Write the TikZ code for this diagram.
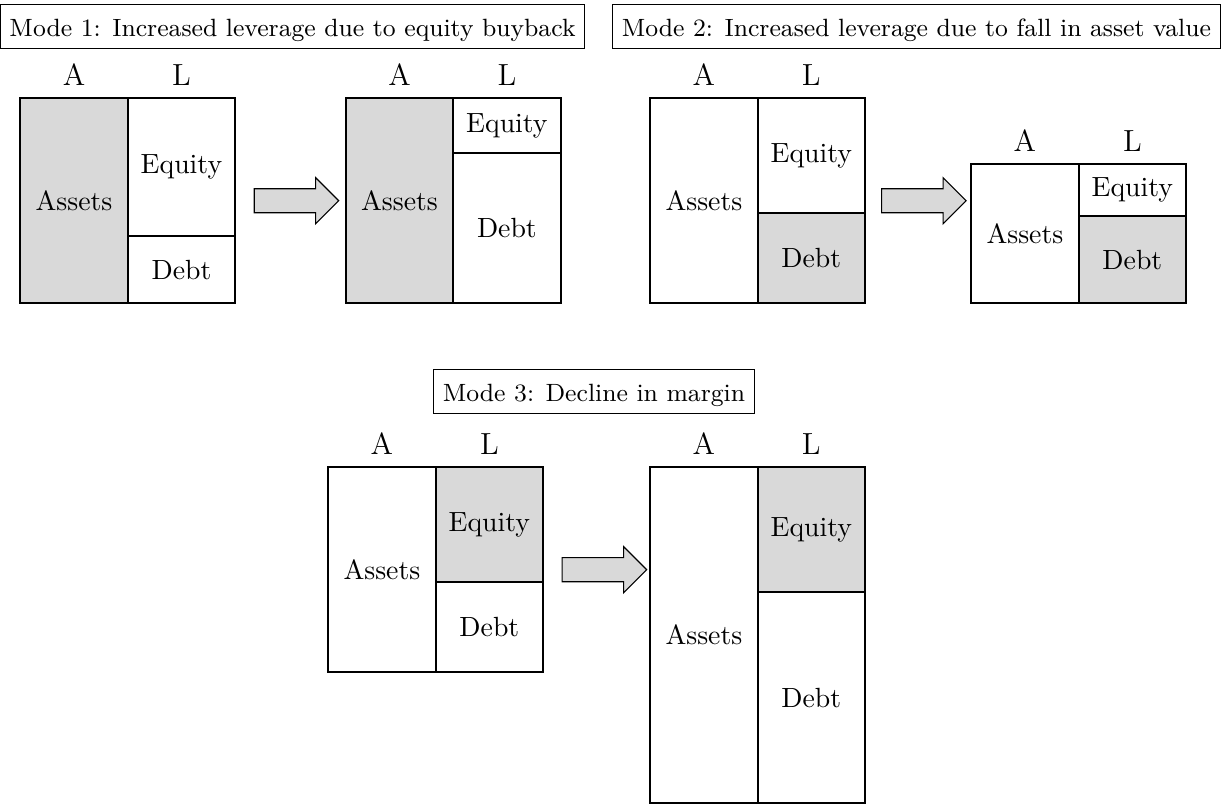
\documentclass[tikz,border=0pt]{standalone}
\usetikzlibrary{shapes.arrows,positioning}
\begin{document}
\begin{tikzpicture}[
    part/.style={draw,thick,rectangle,inner sep=0pt,outer sep=0pt,minimum width=1.36cm},
    shaded/.style={part,fill=gray!30},
    colhead/.style={font=\fontsize{11}{13}\selectfont},
    modebox/.style={draw,rectangle,font=\small,text height=8pt,text depth=1.2pt},
    bigarrow/.style={single arrow,draw,fill=gray!30,inner xsep=0pt,inner ysep=0.145cm,
      minimum height=1.07cm,single arrow head extend=0.14cm}
  ]

      \useasboundingbox (0,0) rectangle (15.47,10.18);

      \node[modebox] (mode1) at (3.703,9.842) {Mode 1: Increased leverage due to equity buyback};
      \node[modebox] (mode2) at (11.601,9.842) {Mode 2: Increased leverage due to fall in asset value};
      \node[modebox] (mode3) at (7.519,5.222) {Mode 3: Decline in margin};

      % mode 1
      \node[shaded, minimum height=2.595cm] (assets1) at (0.937,7.639) {Assets};
      \node[part, minimum height=1.747cm, anchor=north west] (equity1) at (assets1.north east) {Equity};
      \node[part, minimum height=0.848cm, anchor=north] (debt1) at (equity1.south) {Debt};
      \node[colhead, above=1pt of assets1] (a1) {A};
      \node[colhead, above=1pt of equity1] (l1) {L};

      \node[bigarrow] (arrow1) at (3.677,7.639) {};

      \node[shaded, minimum height=2.595cm] (assets2) at (5.057,7.639) {Assets};
      \node[part, minimum height=0.696cm, anchor=north west] (equity2) at (assets2.north east) {Equity};
      \node[part, minimum height=1.899cm, anchor=north] (debt2) at (equity2.south) {Debt};
      \node[colhead, above=1pt of assets2] (a2) {A};
      \node[colhead, above=1pt of equity2] (l2) {L};

      % mode 2
      \node[part, minimum height=2.595cm] (assets3) at (8.911,7.639) {Assets};
      \node[part, minimum height=1.456cm, anchor=north west] (equity3) at (assets3.north east) {Equity};
      \node[shaded, minimum height=1.139cm, anchor=north] (debt3) at (equity3.south) {Debt};
      \node[colhead, above=1pt of assets3] (a3) {A};
      \node[colhead, above=1pt of equity3] (l3) {L};

      \node[bigarrow] (arrow2) at (11.62,7.639) {};

      \node[part, minimum height=1.759cm] (assets4) at (12.975,7.222) {Assets};
      \node[part, minimum height=0.658cm, anchor=north west] (equity4) at (assets4.north east) {Equity};
      \node[shaded, minimum height=1.101cm, anchor=north] (debt4) at (equity4.south) {Debt};
      \node[colhead, above=1pt of assets4] (a4) {A};
      \node[colhead, above=1pt of equity4] (l4) {L};

      % mode 3
      \node[part, minimum height=2.595cm] (assets5) at (4.835,2.968) {Assets};
      \node[shaded, minimum height=1.456cm, anchor=north west] (equity5) at (assets5.north east) {Equity};
      \node[part, minimum height=1.139cm, anchor=north] (debt5) at (equity5.south) {Debt};
      \node[colhead, above=1pt of assets5] (a5) {A};
      \node[colhead, above=1pt of equity5] (l5) {L};

      \node[bigarrow] (arrow3) at (7.576,2.968) {};

      \node[part, minimum height=4.253cm] (assets6) at (8.911,2.139) {Assets};
      \node[shaded, minimum height=1.582cm, anchor=north west] (equity6) at (assets6.north east) {Equity};
      \node[part, minimum height=2.671cm, anchor=north] (debt6) at (equity6.south) {Debt};
      \node[colhead, above=1pt of assets6] (a6) {A};
      \node[colhead, above=1pt of equity6] (l6) {L};

    \end{tikzpicture}
\end{document}
